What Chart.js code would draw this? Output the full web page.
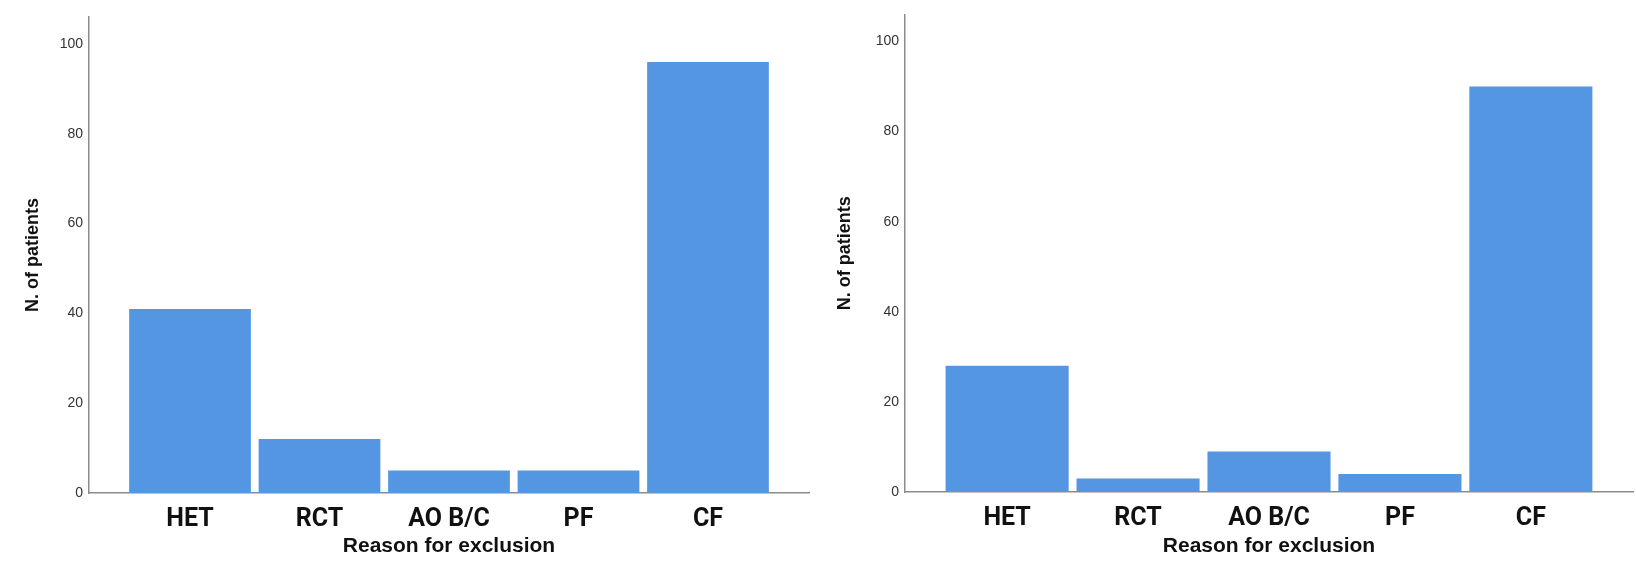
<!DOCTYPE html>
<html>
<head>
<meta charset="utf-8">
<script src="https://cdn.jsdelivr.net/npm/chart.js@4/dist/chart.umd.min.js"></script>
<style>
  html, body { margin: 0; padding: 0; background: #fff; }
  body { width: 1636px; height: 562px; position: relative; overflow: hidden; }
  .painel { position: absolute; top: 0; height: 562px; }
  #painelEsq { left: 0; width: 820px; }
  #painelDir { left: 820px; width: 816px; }
</style>
</head>
<body>
<div class="painel" id="painelEsq"><canvas id="graficoEsq"></canvas></div>
<div class="painel" id="painelDir"><canvas id="graficoDir"></canvas></div>
<script>
// dados
const categorias = ['HET', 'RCT', 'AO B/C', 'PF', 'CF'];
const pacientesEsq = [41, 12, 5, 5, 96];
const pacientesDir = [28, 3, 9, 4, 90];
const ticksY = [0, 20, 40, 60, 80, 100];

const corBarra = '#5596e3';
const corEixo = '#8c8c8c';

function montarGrafico(id, valores, cfg) {
  const ctx = document.getElementById(id).getContext('2d');
  return new Chart(ctx, {
    type: 'bar',
    data: {
      datasets: [{
        data: valores.map((v, i) => ({ x: i, y: v })),
        backgroundColor: corBarra,
        borderWidth: 0,
        barPercentage: 0.94,
        categoryPercentage: 1
      }]
    },
    options: {
      responsive: true,
      maintainAspectRatio: false,
      animation: false,
      layout: { padding: { top: cfg.topo, right: cfg.direita, bottom: 0, left: 0 } },
      plugins: { legend: { display: false }, tooltip: { enabled: false } },
      scales: {
        x: {
          type: 'linear',
          offset: false,
          min: -0.78,
          max: 4.78,
          grid: { display: false, drawTicks: false },
          border: { display: true, color: corEixo, width: 1.5 },
          afterBuildTicks: axis => { axis.ticks = categorias.map((c, i) => ({ value: i })); },
          afterFit: axis => { axis.height = cfg.alturaX; },
          ticks: {
            autoSkip: false,
            maxRotation: 0,
            padding: 12,
            color: '#111',
            font: { family: 'Roboto', weight: 'bold', size: 25 },
            callback: v => categorias[v]
          },
          title: {
            display: true,
            text: 'Reason for exclusion',
            color: '#111',
            padding: { top: 0, bottom: 3 },
            font: { family: 'Liberation Sans', weight: 'bold', size: 21 }
          }
        },
        y: {
          min: 0,
          max: 106,
          grid: { display: false, drawTicks: false },
          border: { display: true, color: corEixo, width: 1.5 },
          afterBuildTicks: axis => { axis.ticks = ticksY.map(v => ({ value: v })); },
          afterFit: axis => { axis.width = cfg.larguraY; },
          ticks: {
            padding: 6,
            color: '#333',
            font: { family: 'Liberation Sans', size: 14 }
          },
          title: {
            display: true,
            text: 'N. of patients',
            color: '#111',
            padding: { top: cfg.tituloY, bottom: 0 },
            font: { family: 'Liberation Sans', weight: 'bold', size: 18 }
          }
        }
      }
    }
  });
}

// espera as fontes antes de desenhar no canvas
Promise.all([
  document.fonts.load('bold 25px Roboto'),
  document.fonts.load('bold 21px "Liberation Sans"'),
  document.fonts.load('14px "Liberation Sans"')
]).catch(() => {}).then(() => {
  montarGrafico('graficoEsq', pacientesEsq, { topo: 17, direita: 11, alturaX: 69, larguraY: 89, tituloY: 22 });
  montarGrafico('graficoDir', pacientesDir, { topo: 5, direita: 3, alturaX: 70, larguraY: 85, tituloY: 14 });
});
</script>
</body>
</html>
